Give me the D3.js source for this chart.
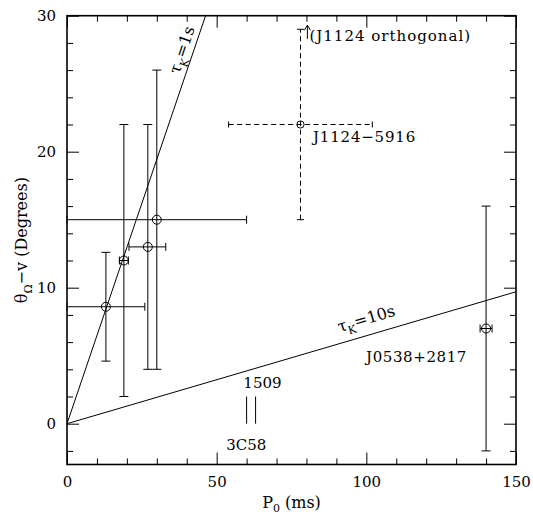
<!DOCTYPE html>
<html>
<head>
<meta charset="utf-8">
<script src="https://cdn.jsdelivr.net/npm/d3@7"></script>
<style>
  body { margin: 0; background: #fff; }
  svg { display: block; font-family: "DejaVu Serif", serif; }
</style>
</head>
<body>
<div class="grap"></div>
<script>
// pulsars: spin period P0 (ms) vs spin-velocity angle (deg)
const pulsarP0  = [13, 19, 27, 30, 78, 140];
const pulsarAng = [8.6, 12, 13, 15, 22, 7];
const p0Low     = [0, 17.5, 20.7, 0, 54, 138];
const p0High    = [26, 20.5, 33, 60, 102, 142];
const angLow    = [4.6, 2, 4, 4, 15, -2];
const angHigh   = [12.6, 22, 22, 26, 29, 16];
const isDashed  = [false, false, false, false, true, false];

// 1509 and 3C58: ranges only, no point
const barP0   = [60, 63];
const barLow  = [0, 0];
const barHigh = [2, 2];

// tau_K lines (P0, angle)
const tau1Line  = [[0, 0], [46.3, 30]];
const tau10Line = [[0, 0], [150, 9.7]];

const xMajor = [0, 50, 100, 150];
const xMinor = [10, 20, 30, 40, 60, 70, 80, 90, 110, 120, 130, 140];
const yMajor = [0, 10, 20, 30];
const yMinor = [-2, 2, 4, 6, 8, 12, 14, 16, 18, 22, 24, 26, 28];

const W = 533, H = 514;
const svg = d3.select(".grap").append("svg").attr("width", W).attr("height", H);

const x = d3.scaleLinear().domain([0, 150]).range([67, 516]);
const y = d3.scaleLinear().domain([-3, 30]).range([464.5, 15.7]);

const noDomain = g => g.select(".domain").remove();
const tickStyle = g => g.selectAll("text").attr("font-family", "DejaVu Serif").attr("font-size", 15).attr("fill", "#000");

// ticks, inward on all four sides
svg.append("g").attr("transform", `translate(0,${y(-3)})`)
    .call(d3.axisBottom(x).tickValues(xMinor).tickSize(-6).tickFormat("")).call(noDomain);
svg.append("g").attr("transform", `translate(0,${y(-3)})`)
    .call(d3.axisBottom(x).tickValues(xMajor).tickSize(-12).tickPadding(12)).call(noDomain).call(tickStyle);
svg.append("g").attr("transform", `translate(0,${y(30)})`)
    .call(d3.axisTop(x).tickValues(xMinor).tickSize(-6).tickFormat("")).call(noDomain);
svg.append("g").attr("transform", `translate(0,${y(30)})`)
    .call(d3.axisTop(x).tickValues(xMajor).tickSize(-12).tickFormat("")).call(noDomain);

svg.append("g").attr("transform", `translate(${x(0)},0)`)
    .call(d3.axisLeft(y).tickValues(yMinor).tickSize(-6).tickFormat("")).call(noDomain);
svg.append("g").attr("transform", `translate(${x(0)},0)`)
    .call(d3.axisLeft(y).tickValues(yMajor).tickSize(-12).tickPadding(11)).call(noDomain).call(tickStyle);
svg.append("g").attr("transform", `translate(${x(150)},0)`)
    .call(d3.axisRight(y).tickValues(yMinor).tickSize(-6).tickFormat("")).call(noDomain);
svg.append("g").attr("transform", `translate(${x(150)},0)`)
    .call(d3.axisRight(y).tickValues(yMajor).tickSize(-12).tickFormat("")).call(noDomain);

svg.append("rect")
    .attr("x", x(0)).attr("y", y(30))
    .attr("width", x(150) - x(0)).attr("height", y(-3) - y(30))
    .attr("fill", "none").attr("stroke", "#000").attr("stroke-width", 1.6);

// tau_K lines
const line = d3.line().x(d => x(d[0])).y(d => y(d[1]));
[tau1Line, tau10Line].forEach(pts => {
    svg.append("path").datum(pts)
        .attr("fill", "none").attr("stroke", "#000").attr("stroke-width", 1)
        .attr("d", line);
});

function tauLabel(pts, atP0, off, val) {
    const a = Math.atan2(y(pts[1][1]) - y(pts[0][1]), x(pts[1][0]) - x(pts[0][0])) * 180 / Math.PI;
    const slope = (pts[1][1] - pts[0][1]) / (pts[1][0] - pts[0][0]);
    const t = svg.append("text")
        .attr("transform", `translate(${x(atP0)},${y(atP0 * slope)}) rotate(${a}) translate(0,${off})`)
        .attr("text-anchor", "middle")
        .attr("font-size", 16);
    t.append("tspan").text("τ");
    t.append("tspan").attr("font-size", 11).attr("dy", 5).text("K");
    t.append("tspan").attr("dy", -5).text("=" + val);
}
tauLabel(tau1Line, 42, -6, "1s");
tauLabel(tau10Line, 101.5, -11, "10s");

// error bars and points
pulsarP0.forEach((p, i) => {
    const g = svg.append("g").attr("stroke", "#000").attr("stroke-width", 1).attr("fill", "none");
    const dash = isDashed[i] ? "5,3.5" : null;
    const cap = isDashed[i] ? 3 : 4;
    const cy = y(pulsarAng[i]), cx = x(p);
    g.append("line").attr("x1", x(p0Low[i])).attr("x2", x(p0High[i])).attr("y1", cy).attr("y2", cy).attr("stroke-dasharray", dash);
    g.append("line").attr("x1", cx).attr("x2", cx).attr("y1", y(angLow[i])).attr("y2", y(angHigh[i])).attr("stroke-dasharray", dash);
    [p0Low[i], p0High[i]].forEach(v => g.append("line")
        .attr("x1", x(v)).attr("x2", x(v)).attr("y1", cy - cap).attr("y2", cy + cap));
    [angLow[i], angHigh[i]].forEach(v => g.append("line")
        .attr("x1", cx - cap - 0.5).attr("x2", cx + cap + 0.5).attr("y1", y(v)).attr("y2", y(v)));
    g.append("circle").attr("cx", cx).attr("cy", cy).attr("r", isDashed[i] ? 3.6 : 4.5);
});

barP0.forEach((p, i) => {
    svg.append("line").attr("stroke", "#000").attr("stroke-width", 1)
        .attr("x1", x(p)).attr("x2", x(p)).attr("y1", y(barLow[i])).attr("y2", y(barHigh[i]));
});

// upward arrow for the orthogonal J1124 solution
const ax = x(80.3), ayTop = y(29.3), ayBot = y(28.3);
svg.append("path")
    .attr("d", `M${ax},${ayBot}V${ayTop}M${ax - 3},${ayTop + 5}L${ax},${ayTop}L${ax + 3},${ayTop + 5}`)
    .attr("fill", "none").attr("stroke", "#000").attr("stroke-width", 1);

// annotations
const notes = [
    { text: "(J1124 orthogonal)", p: 81.0, a: 28.14, anchor: "start", ls: 1 },
    { text: "J1124−5916", p: 82.2, a: 20.72, anchor: "start", ls: 0.8 },
    { text: "J0538+2817", p: 99.9, a: 4.55, anchor: "start", ls: 0.6 },
    { text: "1509", p: 65.3, a: 2.62, anchor: "middle", ls: 0 },
    { text: "3C58", p: 59.9, a: -1.91, anchor: "middle", ls: 0 }
];
notes.forEach(n => {
    svg.append("text").attr("x", x(n.p)).attr("y", y(n.a))
        .attr("text-anchor", n.anchor).attr("font-size", 15)
        .attr("letter-spacing", n.ls).text(n.text);
});

// axis titles
const xt = svg.append("text").attr("x", (x(0) + x(150)) / 2).attr("y", 508)
    .attr("text-anchor", "middle").attr("font-size", 16);
xt.append("tspan").text("P");
xt.append("tspan").attr("font-size", 11).attr("dy", 4).text("0");
xt.append("tspan").attr("dy", -4).text(" (ms)");

const yt = svg.append("text")
    .attr("transform", `translate(27,${(y(30) + y(-3)) / 2}) rotate(-90)`)
    .attr("text-anchor", "middle").attr("font-size", 16);
yt.append("tspan").text("θ");
yt.append("tspan").attr("font-size", 11).attr("dy", 5).text("Ω");
yt.append("tspan").attr("dy", -5).text("−v (Degrees)");
</script>
</body>
</html>
